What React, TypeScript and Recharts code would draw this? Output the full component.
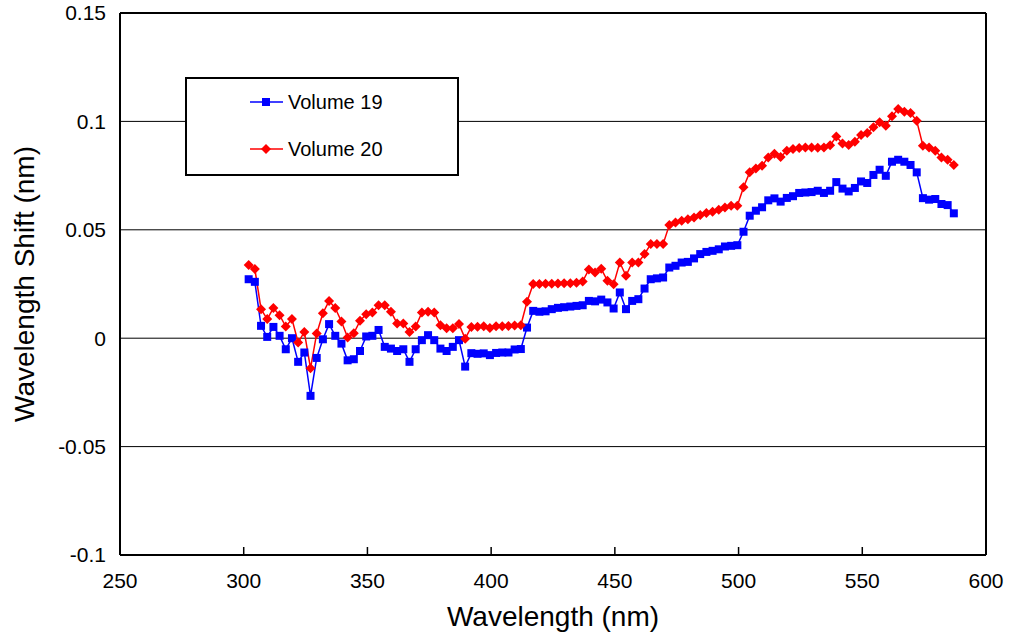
import React from 'react';
import { LineChart, Line, XAxis, YAxis, CartesianGrid, Legend, ReferenceLine, Label } from 'recharts';

const FONT = '"Liberation Sans", Arial, sans-serif';

// wavelength of each sample (nm)
const wavelengths = [
  302, 304.5, 307, 309.5, 312, 314.5, 317, 319.5, 322, 324.5,
  327, 329.5, 332, 334.5, 337, 339.5, 342, 344.5, 347, 349.5,
  352, 354.5, 357, 359.5, 362, 364.5, 367, 369.5, 372, 374.5,
  377, 379.5, 382, 384.5, 387, 389.5, 392, 394.5, 397, 399.5,
  402, 404.5, 407, 409.5, 412, 414.5, 417, 419.5, 422, 424.5,
  427, 429.5, 432, 434.5, 437, 439.5, 442, 444.5, 447, 449.5,
  452, 454.5, 457, 459.5, 462, 464.5, 467, 469.5, 472, 474.5,
  477, 479.5, 482, 484.5, 487, 489.5, 492, 494.5, 497, 499.5,
  502, 504.5, 507, 509.5, 512, 514.5, 517, 519.5, 522, 524.5,
  527, 529.5, 532, 534.5, 537, 539.5, 542, 544.5, 547, 549.5,
  552, 554.5, 557, 559.5, 562, 564.5, 567, 569.5, 572, 574.5,
  577, 579.5, 582, 584.5, 587,
];

const volume19 = [
  0.0272, 0.0260, 0.0057, 0.0006, 0.0052, 0.0011, -0.0051, 0.0000, -0.0109, -0.0066,
  -0.0266, -0.0091, -0.0005, 0.0065, 0.0011, -0.0025, -0.0102, -0.0097, -0.0059, 0.0008,
  0.0011, 0.0038, -0.0040, -0.0048, -0.0059, -0.0051, -0.0109, -0.0051, -0.0009, 0.0014,
  -0.0009, -0.0048, -0.0059, -0.0040, -0.0009, -0.0131, -0.0069, -0.0072, -0.0070, -0.0078,
  -0.0068, -0.0066, -0.0066, -0.0052, -0.0050, 0.0049, 0.0126, 0.0122, 0.0124, 0.0134,
  0.0140, 0.0143, 0.0146, 0.0149, 0.0152, 0.0172, 0.0170, 0.0178, 0.0165, 0.0137,
  0.0211, 0.0134, 0.0172, 0.0180, 0.0229, 0.0272, 0.0276, 0.0280, 0.0326, 0.0334,
  0.0349, 0.0352, 0.0368, 0.0388, 0.0398, 0.0403, 0.0410, 0.0423, 0.0426, 0.0429,
  0.0491, 0.0565, 0.0588, 0.0604, 0.0636, 0.0645, 0.0630, 0.0647, 0.0655, 0.0670,
  0.0672, 0.0674, 0.0680, 0.0670, 0.0680, 0.0720, 0.0690, 0.0677, 0.0693, 0.0723,
  0.0716, 0.0753, 0.0777, 0.0749, 0.0814, 0.0823, 0.0814, 0.0799, 0.0765, 0.0646,
  0.0639, 0.0642, 0.0619, 0.0614, 0.0576,
];

const volume20 = [
  0.0338, 0.0319, 0.0134, 0.0088, 0.0139, 0.0106, 0.0054, 0.0088, -0.0020, 0.0029,
  -0.0139, 0.0022, 0.0115, 0.0172, 0.0139, 0.0077, 0.0003, 0.0023, 0.0080, 0.0111,
  0.0118, 0.0152, 0.0152, 0.0122, 0.0068, 0.0068, 0.0029, 0.0054, 0.0118, 0.0122,
  0.0118, 0.0060, 0.0046, 0.0046, 0.0065, -0.0002, 0.0052, 0.0053, 0.0055, 0.0047,
  0.0055, 0.0055, 0.0056, 0.0059, 0.0060, 0.0168, 0.0250, 0.0250, 0.0251, 0.0251,
  0.0252, 0.0253, 0.0254, 0.0256, 0.0262, 0.0317, 0.0303, 0.0320, 0.0265, 0.0249,
  0.0349, 0.0288, 0.0349, 0.0349, 0.0388, 0.0434, 0.0434, 0.0434, 0.0522, 0.0534,
  0.0542, 0.0549, 0.0557, 0.0568, 0.0577, 0.0583, 0.0592, 0.0603, 0.0611, 0.0611,
  0.0696, 0.0765, 0.0783, 0.0796, 0.0834, 0.0851, 0.0836, 0.0865, 0.0873, 0.0877,
  0.0880, 0.0880, 0.0878, 0.0880, 0.0890, 0.0930, 0.0898, 0.0891, 0.0906, 0.0937,
  0.0946, 0.0973, 0.0996, 0.0980, 0.1024, 0.1057, 0.1045, 0.1039, 0.1003, 0.0888,
  0.0880, 0.0865, 0.0834, 0.0823, 0.0799,
];

const xTicks = [250, 300, 350, 400, 450, 500, 550, 600];
const yTicks = [-0.1, -0.05, 0, 0.05, 0.1, 0.15];

const data = wavelengths.map((w, i) => ({ wavelength: w, v19: volume19[i], v20: volume20[i] }));

const BLUE = '#0000ff';
const RED = '#ff0000';

const Square = (props: any) => {
  const { cx, cy, index } = props;
  return <rect key={`sq-${index}`} x={cx - 4} y={cy - 4} width={8} height={8} fill={BLUE} />;
};

const Diamond = (props: any) => {
  const { cx, cy, index } = props;
  const r = 5;
  return (
    <path
      key={`dm-${index}`}
      d={`M${cx},${cy - r} L${cx + r},${cy} L${cx},${cy + r} L${cx - r},${cy} Z`}
      fill={RED}
    />
  );
};

const XTick = (props: any) => {
  const { x, y, payload } = props;
  return (
    <g>
      <line x1={x} x2={x} y1={y} y2={y - 8} stroke="#000" strokeWidth={1.5} />
      <text x={x} y={y + 33} textAnchor="middle" fontSize={21} fontFamily={FONT} fill="#000">
        {payload.value}
      </text>
    </g>
  );
};

const LegendBox = () => (
  <div
    style={{
      width: 274,
      height: 99,
      border: '2px solid #000',
      boxSizing: 'border-box',
      background: '#fff',
    }}
  >
    <svg width={270} height={95}>
      <line x1={63} x2={96} y1={23} y2={23} stroke={BLUE} strokeWidth={1.5} />
      <rect x={75} y={19} width={8} height={8} fill={BLUE} />
      <text x={101} y={23} dominantBaseline="central" fontSize={20} fontFamily={FONT} fill="#000">
        Volume 19
      </text>
      <line x1={63} x2={96} y1={70} y2={70} stroke={RED} strokeWidth={1.5} />
      <path d="M79,65 L84,70 L79,75 L74,70 Z" fill={RED} />
      <text x={101} y={70} dominantBaseline="central" fontSize={20} fontFamily={FONT} fill="#000">
        Volume 20
      </text>
    </svg>
  </div>
);

const App: React.FC = () => {
  return (
    <div style={{ position: 'absolute', left: 0, top: 0, width: 1009, height: 636, background: '#fff', fontFamily: FONT }}>
      <LineChart width={1009} height={636} data={data} margin={{ top: 13, right: 23, bottom: 0, left: 0 }}>
        <CartesianGrid vertical={false} stroke="#000" strokeWidth={1} />
        <XAxis
          dataKey="wavelength"
          type="number"
          domain={[250, 600]}
          ticks={xTicks}
          height={81}
          stroke="#000"
          strokeWidth={2}
          tickLine={false}
          tickSize={0}
          tickMargin={0}
          tick={<XTick />}
          interval={0}
        >
          <Label
            content={(p: any) => {
              const vb = p.viewBox;
              return (
                <text x={vb.x + vb.width / 2} y={626} textAnchor="middle" fontSize={28} fontFamily={FONT} fill="#000">
                  Wavelength (nm)
                </text>
              );
            }}
          />
        </XAxis>
        <YAxis
          type="number"
          domain={[-0.1, 0.15]}
          ticks={yTicks}
          width={120}
          stroke="#000"
          strokeWidth={2}
          tickLine={false}
          tickSize={0}
          tickMargin={14}
          tick={{ fill: '#000', fontSize: 21, fontFamily: FONT }}
          interval={0}
        >
          <Label
            content={(p: any) => {
              const vb = p.viewBox;
              const cx = 34;
              const cy = vb.y + vb.height / 2;
              return (
                <text
                  x={cx}
                  y={cy}
                  transform={`rotate(-90 ${cx} ${cy})`}
                  textAnchor="middle"
                  fontSize={28}
                  fontFamily={FONT}
                  fill="#000"
                >
                  Wavelength Shift (nm)
                </text>
              );
            }}
          />
        </YAxis>
        <ReferenceLine y={0.15} stroke="#000" strokeWidth={2} />
        <ReferenceLine x={600} stroke="#000" strokeWidth={2} />
        <Legend
          layout="vertical"
          align="center"
          verticalAlign="middle"
          content={<LegendBox />}
          wrapperStyle={{ position: 'absolute', left: 185, top: 77, width: 274, height: 99 }}
        />
        <Line
          dataKey="v19"
          name="Volume 19"
          stroke={BLUE}
          strokeWidth={1.5}
          dot={Square}
          activeDot={false}
          isAnimationActive={false}
        />
        <Line
          dataKey="v20"
          name="Volume 20"
          stroke={RED}
          strokeWidth={1.5}
          dot={Diamond}
          activeDot={false}
          isAnimationActive={false}
        />
      </LineChart>
    </div>
  );
};

export default App;
